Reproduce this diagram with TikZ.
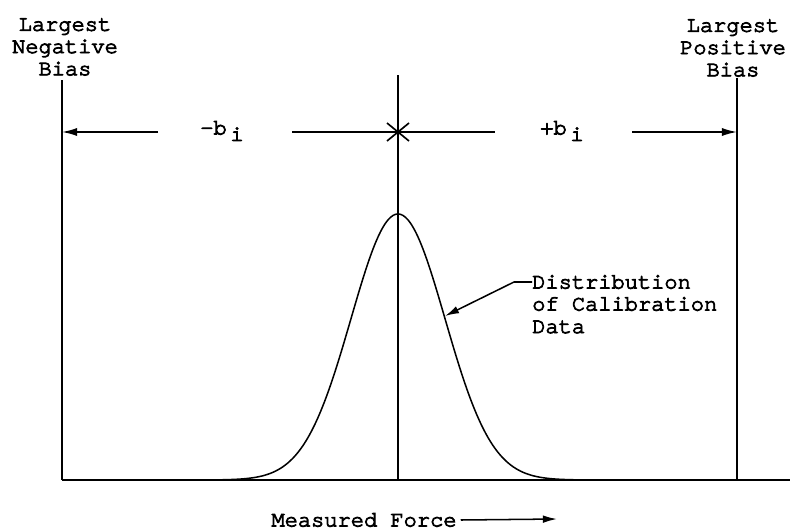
\documentclass[tikz,border=0pt]{standalone}
\usepackage{fontspec}
\newfontfamily\typewriter[FakeBold=4]{texgyrecursor-regular.otf}
\usetikzlibrary{arrows.meta}
\newcommand{\subi}{\,\raisebox{-0.7ex}{i}}
\begin{document}
\begin{tikzpicture}[x=0.03cm,y=-0.03cm,
  every node/.style={font=\typewriter\fontsize{18.8}{19}\selectfont,inner sep=0pt},
  frameline/.style={line width=1.4pt},
  thinline/.style={line width=1pt},
  curveline/.style={line width=1.3pt},
  biasarrow/.style={line width=1.3pt,-{Latex[length=13pt,width=7pt]}},
  leader/.style={line width=1.3pt,-{Latex[length=12pt,width=6.5pt]}}]
\useasboundingbox (0,0) rectangle (791,530);
% limits and centre
\coordinate (negtop) at (62,80);  \coordinate (negbot) at (62,480);
\coordinate (ctrtop) at (398,75); \coordinate (ctrbot) at (398,480);
\coordinate (postop) at (737,78); \coordinate (posbot) at (737,480);
\coordinate (axisend) at (790,480);
\draw[frameline] (negtop)--(negbot);
\draw[frameline] (postop)--(posbot);
\draw[thinline] (ctrtop)--(ctrbot);
\draw[frameline] (negbot)--(axisend);
\node[align=center] (neglabel) at (65,47) {Largest\\Negative\\Bias};
\node[align=center] (poslabel) at (733,48) {Largest\\Positive\\Bias};
% bias arrows
\coordinate (centre) at (398,132);
\coordinate (lstart) at (158,132);
\coordinate (rstart) at (632,132);
\coordinate (midl) at (292,132); \coordinate (midr) at (495,132);
\draw[biasarrow] (lstart)--(lstart -| negtop);
\draw[biasarrow] (rstart)--(rstart -| postop);
\draw[frameline] (midl)--(midr);
\draw[frameline] (centre) ++(-11,-9)--++(22,18);
\draw[frameline] (centre) ++(-11,9)--++(22,-18);
\node (minus) at (222,131) {-b\subi};
\node (plus) at (562,131) {+b\subi};
% calibration data
\draw[curveline] plot[domain=-200:200,samples=161,smooth]
  ({398+\x},{480-266*exp(-0.5*(\x/47)*(\x/47))});
\coordinate (curvept) at (445,316);
\node[anchor=west] (dist1) at (532,282) {Distribution};
\node[anchor=west] (dist2) at (532,304) {of Calibration};
\node[anchor=west] (dist3) at (532,327) {Data};
\draw[leader] (dist1.west)--++(-18,0)--(curvept);
% axis label
\node (force) at (364,520) {Measured Force};
\coordinate (forceend) at (557,519);
\draw[leader] (force.east)++(4,0)--(forceend);
\end{tikzpicture}
\end{document}
